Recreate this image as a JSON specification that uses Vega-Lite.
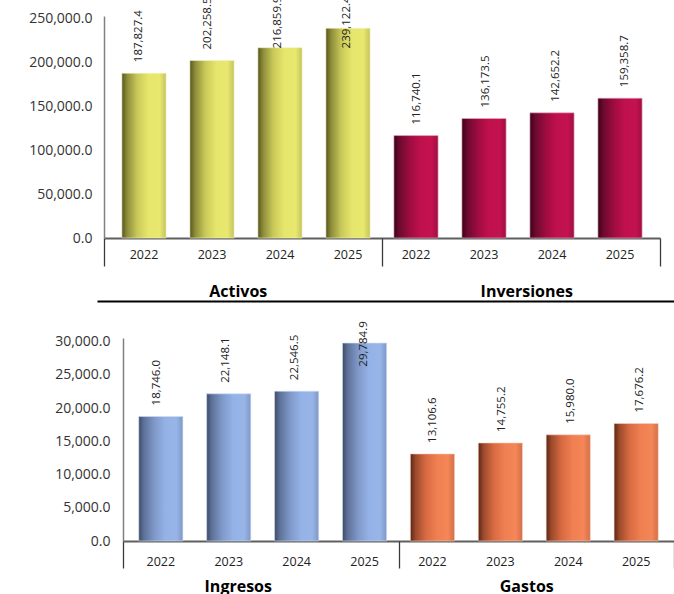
{
  "$schema": "https://vega.github.io/schema/vega-lite/v6.json",
  "padding": {"top": -4, "left": 0, "right": 0, "bottom": 0},
  "background": "white",
  "config": {
    "view": {"stroke": null},
    "font": "Open Sans",
    "axis": {"grid": false, "title": null}
  },
  "datasets": {
    "top": [
      {"group": "Activos", "year": "2022", "cat": "Activos|2022", "value": 187827.4},
      {"group": "Activos", "year": "2023", "cat": "Activos|2023", "value": 202258.5},
      {"group": "Activos", "year": "2024", "cat": "Activos|2024", "value": 216859.9},
      {"group": "Activos", "year": "2025", "cat": "Activos|2025", "value": 239122.4},
      {"group": "Inversiones", "year": "2022", "cat": "Inversiones|2022", "value": 116740.1},
      {"group": "Inversiones", "year": "2023", "cat": "Inversiones|2023", "value": 136173.5},
      {"group": "Inversiones", "year": "2024", "cat": "Inversiones|2024", "value": 142652.2},
      {"group": "Inversiones", "year": "2025", "cat": "Inversiones|2025", "value": 159358.7}
    ],
    "bottom": [
      {"group": "Ingresos", "year": "2022", "cat": "Ingresos|2022", "value": 18746.0},
      {"group": "Ingresos", "year": "2023", "cat": "Ingresos|2023", "value": 22148.1},
      {"group": "Ingresos", "year": "2024", "cat": "Ingresos|2024", "value": 22546.5},
      {"group": "Ingresos", "year": "2025", "cat": "Ingresos|2025", "value": 29784.9},
      {"group": "Gastos", "year": "2022", "cat": "Gastos|2022", "value": 13106.6},
      {"group": "Gastos", "year": "2023", "cat": "Gastos|2023", "value": 14755.2},
      {"group": "Gastos", "year": "2024", "cat": "Gastos|2024", "value": 15980.0},
      {"group": "Gastos", "year": "2025", "cat": "Gastos|2025", "value": 17676.2}
    ]
  },
  "columns": 1,
  "spacing": 20,
  "concat": [
    {
      "width": 551,
      "height": 222,
      "data": {"name": "top"},
      "resolve": {"scale": {"x": "independent"}, "axis": {"x": "independent"}},
      "layer": [
        {
          "transform": [{"filter": "datum.group === 'Activos'"}],
          "mark": {"type": "bar", "stroke": "#f2f2c8", "strokeWidth": 0.6,
            "color": {"gradient": "linear", "x1": 0, "y1": 0, "x2": 1, "y2": 0,
              "stops": [
                {"offset": 0, "color": "#55561f"},
                {"offset": 0.12, "color": "#8d8d3a"},
                {"offset": 0.35, "color": "#c9c95a"},
                {"offset": 0.6, "color": "#e6e66c"},
                {"offset": 0.85, "color": "#e8e870"},
                {"offset": 1, "color": "#c4c45a"}]}},
          "encoding": {
            "x": {"field": "cat", "type": "nominal",
              "scale": {"domain": ["Activos|2022", "Activos|2023", "Activos|2024", "Activos|2025", "Inversiones|2022", "Inversiones|2023", "Inversiones|2024", "Inversiones|2025"], "range": [-19, 537], "paddingInner": 0.35, "paddingOuter": 0.263},
              "axis": {"orient": "bottom", "labelExpr": "split(datum.label, '|')[1]", "labelAngle": 0, "ticks": false, "tickSize": 0, "labelPadding": 10, "labelFontSize": 12.5, "labelColor": "#222", "domainColor": "#5f5f5f", "domainWidth": 2}},
            "y": {"field": "value", "type": "quantitative",
              "scale": {"domain": [0, 253000], "nice": false},
              "axis": {"values": [0, 50000, 100000, 150000, 200000, 250000], "format": ",.1f", "offset": 19, "ticks": false, "tickSize": 0, "labelPadding": 12, "labelFontSize": 14, "labelColor": "#333", "labelOverlap": false, "domainColor": "#808080", "domainWidth": 1.5}}
          }
        },
        {
          "transform": [{"filter": "datum.group === 'Inversiones'"}],
          "mark": {"type": "bar", "stroke": "#e8b0c4", "strokeWidth": 0.6,
            "color": {"gradient": "linear", "x1": 0, "y1": 0, "x2": 1, "y2": 0,
              "stops": [
                {"offset": 0, "color": "#3d0019"},
                {"offset": 0.12, "color": "#6a0a2e"},
                {"offset": 0.35, "color": "#9c0c3e"},
                {"offset": 0.6, "color": "#bf104c"},
                {"offset": 0.85, "color": "#c3124f"},
                {"offset": 1, "color": "#a00e42"}]}},
          "encoding": {
            "x": {"field": "cat", "type": "nominal",
              "scale": {"domain": ["Activos|2022", "Activos|2023", "Activos|2024", "Activos|2025", "Inversiones|2022", "Inversiones|2023", "Inversiones|2024", "Inversiones|2025"], "range": [-19, 537], "paddingInner": 0.35, "paddingOuter": 0.263},
              "axis": null},
            "y": {"field": "value", "type": "quantitative",
              "axis": {"values": [0, 50000, 100000, 150000, 200000, 250000], "format": ",.1f", "offset": 19, "ticks": false, "tickSize": 0, "labelPadding": 12, "labelFontSize": 14, "labelColor": "#333", "labelOverlap": false, "domainColor": "#808080", "domainWidth": 1.5}}
          }
        },
        {
          "transform": [{"calculate": "min(datum.value, 203500)", "as": "label_y"}],
          "mark": {"type": "text", "angle": 270, "align": "left", "baseline": "middle", "dx": 11, "fontSize": 11.5, "color": "#222"},
          "encoding": {
            "x": {"field": "cat", "type": "nominal",
              "scale": {"domain": ["Activos|2022", "Activos|2023", "Activos|2024", "Activos|2025", "Inversiones|2022", "Inversiones|2023", "Inversiones|2024", "Inversiones|2025"], "range": [-19, 537], "paddingInner": 0.35, "paddingOuter": 0.263},
              "axis": null},
            "y": {"field": "label_y", "type": "quantitative",
              "axis": {"values": [0, 50000, 100000, 150000, 200000, 250000], "format": ",.1f", "offset": 19, "ticks": false, "tickSize": 0, "labelPadding": 12, "labelFontSize": 14, "labelColor": "#333", "labelOverlap": false, "domainColor": "#808080", "domainWidth": 1.5}},
            "text": {"field": "value", "type": "quantitative", "format": ",.1f"}
          }
        },
        {
          "mark": {"type": "point", "opacity": 0},
          "encoding": {
            "x": {"field": "group", "type": "nominal",
              "scale": {"type": "band", "domain": ["Activos", "Inversiones"], "range": [-19, 537], "paddingInner": 0, "paddingOuter": 0},
              "axis": {"orient": "bottom", "tickBand": "extent", "tickSize": 28, "tickColor": "#3a3a3a", "tickWidth": 1.3, "labels": false, "domain": false}},
            "y": {"field": "value", "type": "quantitative",
              "axis": {"values": [0, 50000, 100000, 150000, 200000, 250000], "format": ",.1f", "offset": 19, "ticks": false, "tickSize": 0, "labelPadding": 12, "labelFontSize": 14, "labelColor": "#333", "labelOverlap": false, "domainColor": "#808080", "domainWidth": 1.5}}
          }
        },
        {
          "mark": {"type": "point", "opacity": 0},
          "encoding": {
            "x": {"field": "group", "type": "nominal",
              "scale": {"type": "band", "domain": ["Activos", "Inversiones"], "range": [-26, 551], "paddingInner": 0, "paddingOuter": 0},
              "axis": {"orient": "bottom", "offset": 63, "ticks": false, "tickSize": 0, "labelAngle": 0, "labelBaseline": "alphabetic", "labelPadding": -5, "labelOffset": -3, "labelFontSize": 16, "labelFontWeight": "bold", "labelColor": "#000", "domainColor": "#000", "domainWidth": 2.2}},
            "y": {"field": "value", "type": "quantitative",
              "axis": {"values": [0, 50000, 100000, 150000, 200000, 250000], "format": ",.1f", "offset": 19, "ticks": false, "tickSize": 0, "labelPadding": 12, "labelFontSize": 14, "labelColor": "#333", "labelOverlap": false, "domainColor": "#808080", "domainWidth": 1.5}}
          }
        }
      ]
    },
    {
      "width": 551,
      "height": 203,
      "data": {"name": "bottom"},
      "resolve": {"scale": {"x": "independent"}, "axis": {"x": "independent"}},
      "layer": [
        {
          "transform": [{"filter": "datum.group === 'Ingresos'"}],
          "mark": {"type": "bar", "stroke": "#d0ddf2", "strokeWidth": 0.6,
            "color": {"gradient": "linear", "x1": 0, "y1": 0, "x2": 1, "y2": 0,
              "stops": [
                {"offset": 0, "color": "#3d4a66"},
                {"offset": 0.12, "color": "#5e7299"},
                {"offset": 0.35, "color": "#7f98c8"},
                {"offset": 0.6, "color": "#94b2e6"},
                {"offset": 0.85, "color": "#98b5e8"},
                {"offset": 1, "color": "#7f98c6"}]}},
          "encoding": {
            "x": {"field": "cat", "type": "nominal",
              "scale": {"domain": ["Ingresos|2022", "Ingresos|2023", "Ingresos|2024", "Ingresos|2025", "Gastos|2022", "Gastos|2023", "Gastos|2024", "Gastos|2025"], "paddingInner": 0.35, "paddingOuter": 0.232},
              "axis": {"orient": "bottom", "labelExpr": "split(datum.label, '|')[1]", "labelAngle": 0, "ticks": false, "tickSize": 0, "labelPadding": 14, "labelFontSize": 12.5, "labelColor": "#222", "domainColor": "#5f5f5f", "domainWidth": 2}},
            "y": {"field": "value", "type": "quantitative",
              "scale": {"domain": [0, 30550], "nice": false},
              "axis": {"values": [0, 5000, 10000, 15000, 20000, 25000, 30000], "tickCount": 7, "format": ",.1f", "ticks": false, "tickSize": 0, "labelPadding": 13, "labelFontSize": 14, "labelColor": "#333", "labelOverlap": false, "domainColor": "#808080", "domainWidth": 1.5, "minExtent": 123, "maxExtent": 123}}
          }
        },
        {
          "transform": [{"filter": "datum.group === 'Gastos'"}],
          "mark": {"type": "bar", "stroke": "#fbd0bc", "strokeWidth": 0.6,
            "color": {"gradient": "linear", "x1": 0, "y1": 0, "x2": 1, "y2": 0,
              "stops": [
                {"offset": 0, "color": "#5a2614"},
                {"offset": 0.12, "color": "#9c4a2c"},
                {"offset": 0.35, "color": "#d86a42"},
                {"offset": 0.6, "color": "#f07f52"},
                {"offset": 0.85, "color": "#f48657"},
                {"offset": 1, "color": "#d27048"}]}},
          "encoding": {
            "x": {"field": "cat", "type": "nominal",
              "scale": {"domain": ["Ingresos|2022", "Ingresos|2023", "Ingresos|2024", "Ingresos|2025", "Gastos|2022", "Gastos|2023", "Gastos|2024", "Gastos|2025"], "paddingInner": 0.35, "paddingOuter": 0.232},
              "axis": null},
            "y": {"field": "value", "type": "quantitative",
              "axis": {"values": [0, 5000, 10000, 15000, 20000, 25000, 30000], "tickCount": 7, "format": ",.1f", "ticks": false, "tickSize": 0, "labelPadding": 13, "labelFontSize": 14, "labelColor": "#333", "labelOverlap": false, "domainColor": "#808080", "domainWidth": 1.5, "minExtent": 123, "maxExtent": 123}}
          }
        },
        {
          "transform": [{"calculate": "min(datum.value, 24580)", "as": "label_y"}],
          "mark": {"type": "text", "angle": 270, "align": "left", "baseline": "middle", "dx": 11, "fontSize": 11.5, "color": "#222"},
          "encoding": {
            "x": {"field": "cat", "type": "nominal",
              "scale": {"domain": ["Ingresos|2022", "Ingresos|2023", "Ingresos|2024", "Ingresos|2025", "Gastos|2022", "Gastos|2023", "Gastos|2024", "Gastos|2025"], "paddingInner": 0.35, "paddingOuter": 0.232},
              "axis": null},
            "y": {"field": "label_y", "type": "quantitative",
              "axis": {"values": [0, 5000, 10000, 15000, 20000, 25000, 30000], "tickCount": 7, "format": ",.1f", "ticks": false, "tickSize": 0, "labelPadding": 13, "labelFontSize": 14, "labelColor": "#333", "labelOverlap": false, "domainColor": "#808080", "domainWidth": 1.5, "minExtent": 123, "maxExtent": 123}},
            "text": {"field": "value", "type": "quantitative", "format": ",.1f"}
          }
        },
        {
          "mark": {"type": "point", "opacity": 0},
          "encoding": {
            "x": {"field": "group", "type": "nominal",
              "scale": {"type": "band", "domain": ["Ingresos", "Gastos"], "paddingInner": 0, "paddingOuter": 0},
              "axis": {"orient": "bottom", "tickBand": "extent", "tickSize": 27, "tickColor": "#3a3a3a", "tickWidth": 1.3, "labels": false, "domain": false}},
            "y": {"field": "value", "type": "quantitative",
              "axis": {"values": [0, 5000, 10000, 15000, 20000, 25000, 30000], "tickCount": 7, "format": ",.1f", "ticks": false, "tickSize": 0, "labelPadding": 13, "labelFontSize": 14, "labelColor": "#333", "labelOverlap": false, "domainColor": "#808080", "domainWidth": 1.5, "minExtent": 123, "maxExtent": 123}}
          }
        },
        {
          "mark": {"type": "point", "opacity": 0},
          "encoding": {
            "x": {"field": "group", "type": "nominal",
              "scale": {"type": "band", "domain": ["Ingresos", "Gastos"], "range": [-26, 551], "paddingInner": 0, "paddingOuter": 0},
              "axis": {"orient": "bottom", "ticks": false, "tickSize": 0, "labelAngle": 0, "labelBaseline": "alphabetic", "labelPadding": 50, "labelOffset": -3, "labelFontSize": 16, "labelFontWeight": "bold", "labelColor": "#000", "domain": false}},
            "y": {"field": "value", "type": "quantitative",
              "axis": {"values": [0, 5000, 10000, 15000, 20000, 25000, 30000], "tickCount": 7, "format": ",.1f", "ticks": false, "tickSize": 0, "labelPadding": 13, "labelFontSize": 14, "labelColor": "#333", "labelOverlap": false, "domainColor": "#808080", "domainWidth": 1.5, "minExtent": 123, "maxExtent": 123}}
          }
        }
      ]
    }
  ]
}
